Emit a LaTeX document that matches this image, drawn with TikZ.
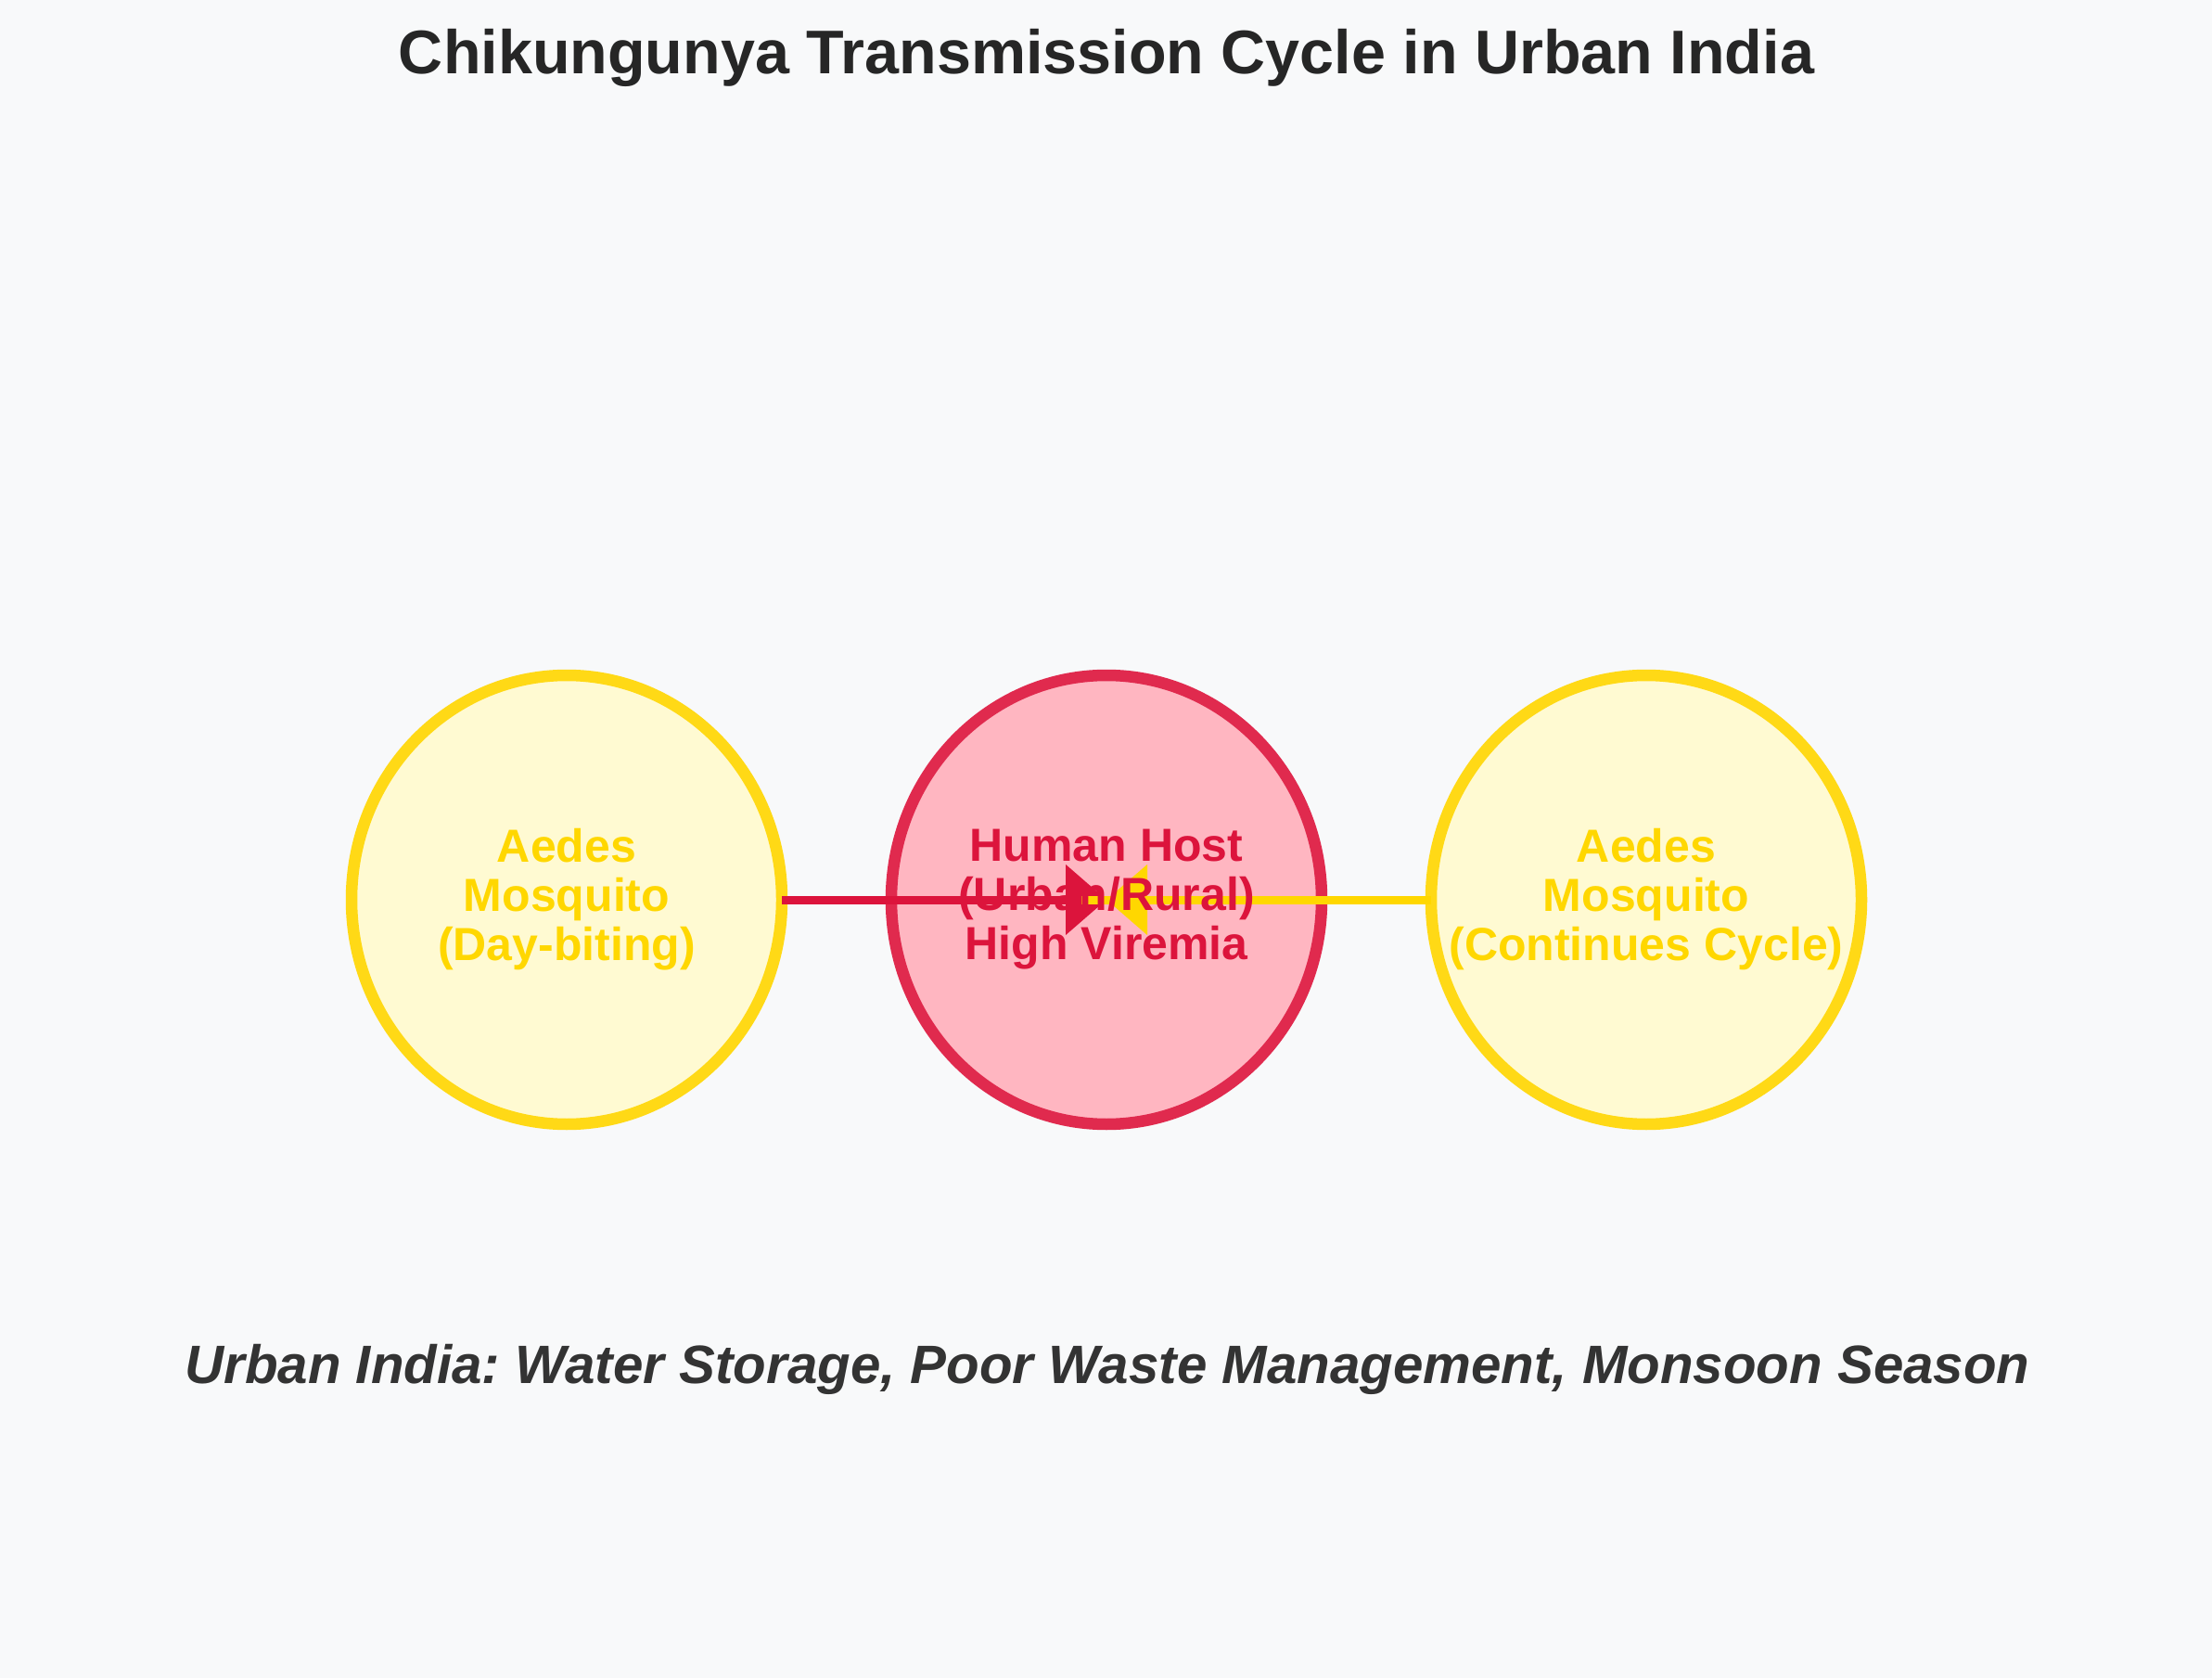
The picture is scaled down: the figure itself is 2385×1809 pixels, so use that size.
\documentclass[tikz,border=0pt]{standalone}
\usepackage{fontspec}
\setmainfont{Liberation Sans}
\usetikzlibrary{shapes.geometric,arrows.meta,positioning}
\definecolor{bgcol}{HTML}{F8F9FA}
\definecolor{mosring}{HTML}{FFD916}
\definecolor{mosfill}{HTML}{FFFAD2}
\definecolor{mostext}{HTML}{FFD700}
\definecolor{hostring}{HTML}{E02A4E}
\definecolor{hostfill}{HTML}{FFB6C1}
\definecolor{hosttext}{HTML}{DC143C}
\definecolor{titletext}{HTML}{262626}
\definecolor{subtext}{HTML}{333333}
\frenchspacing
\begin{document}
\begin{tikzpicture}[x=0.1mm,y=-0.1mm,
  ring/.style={ellipse,minimum width=46.4mm,minimum height=48.4mm,inner sep=0pt,outer sep=0pt,line width=1.25mm},
  mosq/.style={ring,draw=mosring,fill=mosfill},
  hst/.style={ring,draw=hostring,fill=hostfill},
  lbl/.style={align=center,inner sep=0pt,font=\fontsize{14.23pt}{15.08pt}\selectfont\bfseries},
  bite/.style={line width=0.9mm,-{Triangle[length=4.4mm,width=7.4mm]}}]
\fill[bgcol](0,0)rectangle(2385,1809);
%
\node[hst](host)at(1193,970){};
\node[mosq,left=11.8mm of host](mosL){};
\node[mosq,right=11.8mm of host](mosR){};
%
\draw[bite,hosttext](mosL.east)--(host.center);
\draw[mostext,line width=0.9mm](mosR.west)--([xshift=-2.7mm]host.center);
\draw[bite,mostext](mosR.west)--(host.center);
%
\node[lbl,text=mostext]at(mosL){Aedes\\Mosquito\\(Day-biting)};
\node[lbl,text=hosttext]at(host){Human Host\\(Urban/Rural)\\High Viremia};
\node[lbl,text=mostext]at(mosR){Aedes\\Mosquito\\(Continues Cycle)};
%
\node[anchor=base,text=titletext,font=\fontsize{18.92pt}{22pt}\selectfont\bfseries](title)at(1193,80){Chikungunya Transmission Cycle in Urban India};
\node[anchor=base,text=subtext,font=\fontsize{16.58pt}{20pt}\selectfont\bfseries\itshape](note)at(1194,1491){Urban India: Water Storage, Poor Waste Management, Monsoon Season};
\end{tikzpicture}
\end{document}
